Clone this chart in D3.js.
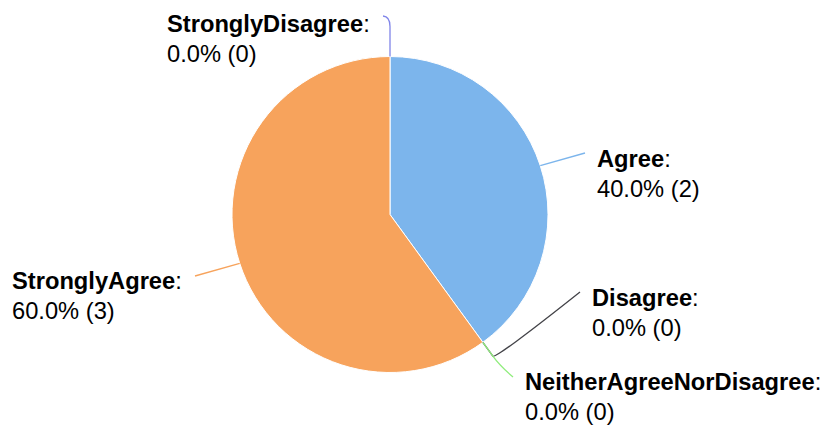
<!DOCTYPE html>
<html>
<head>
<meta charset="utf-8">
<script src="https://cdn.jsdelivr.net/npm/d3@7"></script>
<style>
  html, body { margin: 0; padding: 0; background: #fff; }
  svg { display: block; font-family: "Liberation Sans", Arial, sans-serif; }
</style>
</head>
<body>
<svg id="chart"></svg>
<script>
// data
const categories = ["Agree", "Disagree", "NeitherAgreeNorDisagree", "StronglyAgree", "StronglyDisagree"];
const counts = [2, 0, 0, 3, 0];
const colors = ["#7cb5ec", "#434348", "#90ed7d", "#f7a35c", "#8085e9"];

// label placement (label x / baseline, connector end, radial stub length)
const labelLayout = [
  { lx: 597, ly: 167, ex: 585, ey: 153, stub: 0, bend: 0 },
  { lx: 592, ly: 306, ex: 580, ey: 292, stub: 17, bend: 4 },
  { lx: 525, ly: 390, ex: 513, ey: 377, stub: 17, bend: 12 },
  { lx: 12, ly: 289, ex: 195, ey: 276, stub: 0, bend: 0 },
  { lx: 167, ly: 32, ex: 383, ey: 16, stub: 30, bend: 10 }
];

const w = 826;
const h = 427;
const cx = 390;
const cy = 214.5;
const r = 158;
const fs = 23.7;

const svg = d3.select("#chart").attr("width", w).attr("height", h);

const total = d3.sum(counts);
const data = categories.map((c, i) => ({ name: c, value: counts[i], color: colors[i], i: i }));

const pie = d3.pie().value((d) => d.value).sort(null);
const arcs = pie(data);
const arc = d3.arc().innerRadius(0).outerRadius(r);

const g = svg.append("g").attr("transform", `translate(${cx},${cy})`);

g.selectAll("path.slice")
  .data(arcs.filter((d) => d.data.value > 0))
  .enter()
  .append("path")
  .attr("class", "slice")
  .attr("d", arc)
  .attr("fill", (d) => d.data.color)
  .attr("stroke", "#fff")
  .attr("stroke-width", 1)
  .attr("stroke-linejoin", "round");

// connectors
arcs.forEach((d) => {
  const L = labelLayout[d.data.i];
  const a = (d.startAngle + d.endAngle) / 2;
  const dx = Math.sin(a);
  const dy = -Math.cos(a);
  const p0 = [cx + r * dx, cy + r * dy];
  const p1 = [p0[0] + L.stub * dx, p0[1] + L.stub * dy];
  const c = [p1[0] + L.bend * dx, p1[1] + L.bend * dy];
  const path = d3.path();
  path.moveTo(p0[0], p0[1]);
  path.lineTo(p1[0], p1[1]);
  path.quadraticCurveTo(c[0], c[1], L.ex, L.ey);
  svg.append("path")
    .attr("d", path.toString())
    .attr("fill", "none")
    .attr("stroke", d.data.color)
    .attr("stroke-width", 1.3);
});

// labels
arcs.forEach((d) => {
  const L = labelLayout[d.data.i];
  const pct = total ? (d.data.value / total) * 100 : 0;
  const t = svg.append("text")
    .attr("x", L.lx)
    .attr("y", L.ly)
    .attr("font-size", fs)
    .attr("fill", "#000");
  t.append("tspan").attr("font-weight", "bold").text(d.data.name);
  t.append("tspan").text(":");
  svg.append("text")
    .attr("x", L.lx)
    .attr("y", L.ly + 29.5)
    .attr("font-size", fs)
    .attr("fill", "#000")
    .text(`${pct.toFixed(1)}% (${d.data.value})`);
});
</script>
</body>
</html>
